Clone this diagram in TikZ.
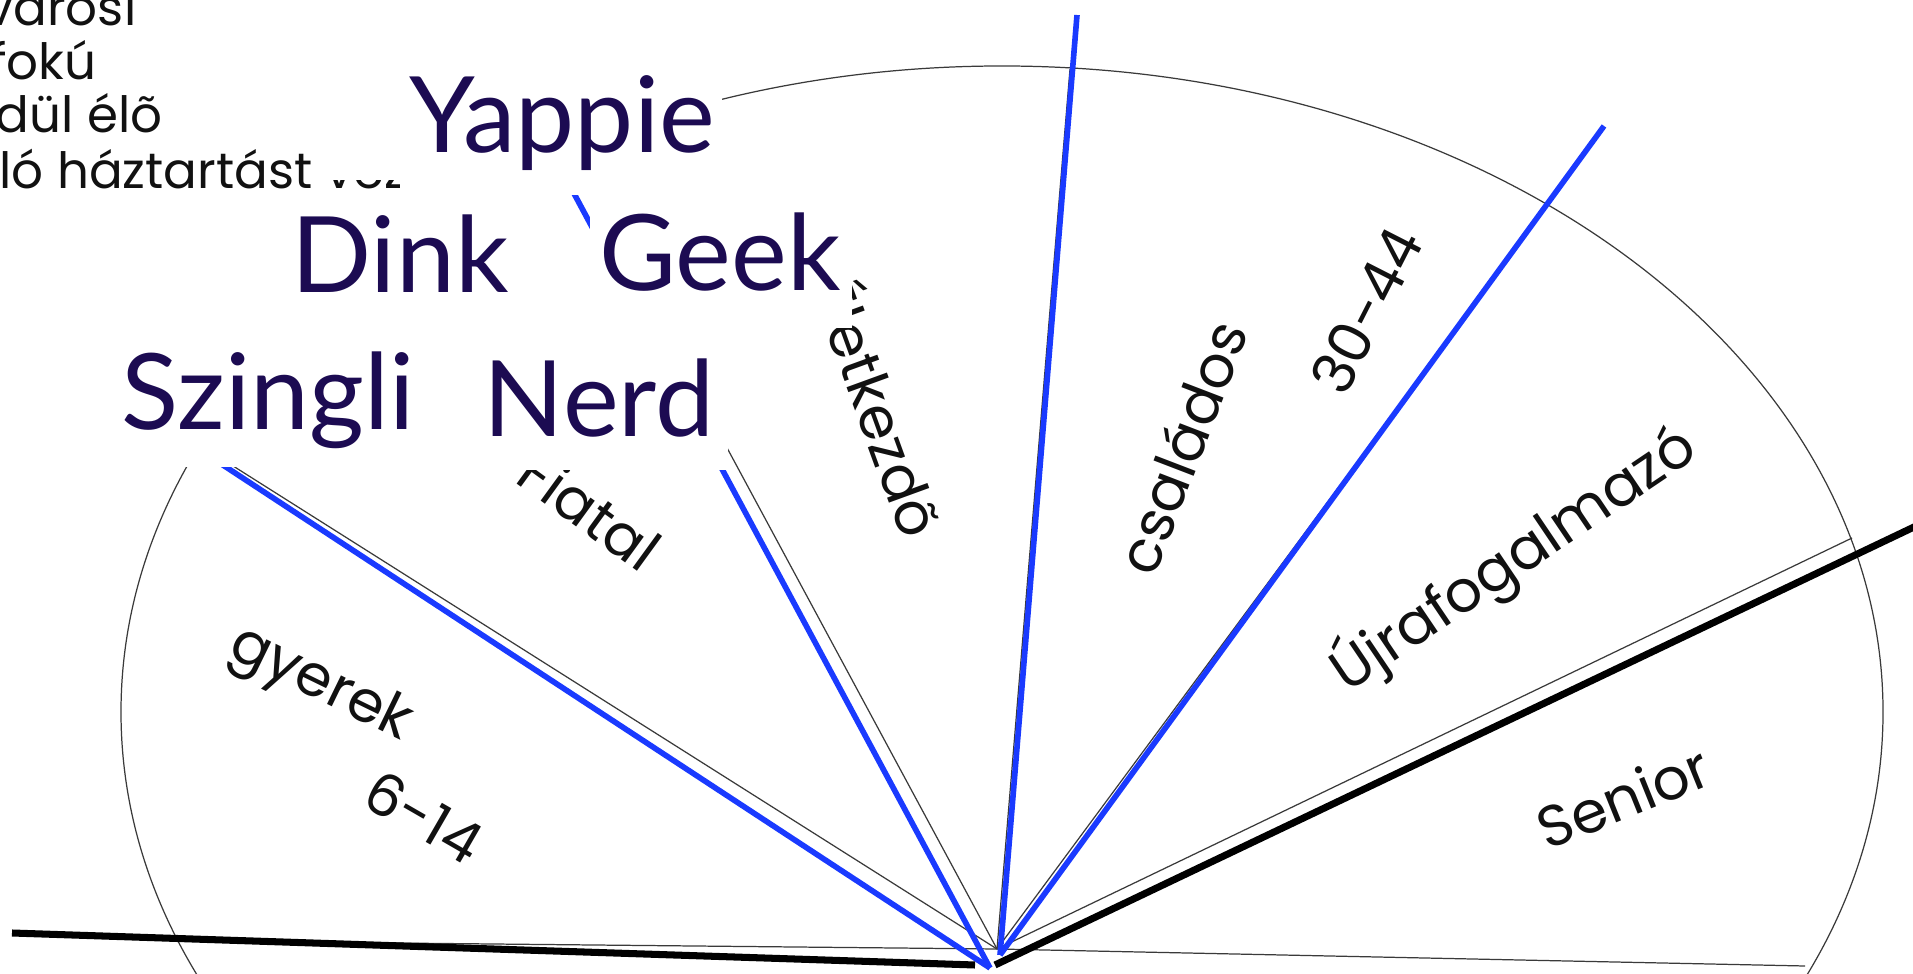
\documentclass[tikz,border=0pt]{standalone}
\usepackage{fontspec}
\setmainfont{Poppins}
\newfontfamily\wordfont{Lato}
\usetikzlibrary{calc}
\definecolor{ink}{HTML}{111111}
\definecolor{fanLine}{HTML}{3A3A3A}
\definecolor{rayLine}{HTML}{1A3AFF}
\definecolor{wordInk}{HTML}{1C0B52}
\tikzset{
  % --- fan (rim and dividers) ---------------------------------------------
  fanrim/.style   = {draw=fanLine, line width=0.35pt},
  fanray/.style   = {draw=fanLine, line width=0.35pt},
  blueray/.style  = {draw=rayLine, line width=1.6pt},
  blackray/.style = {draw=black, line width=2pt},
  % --- labels -------------------------------------------------------------
  seglbl/.style   = {font=\fontsize{16.5}{18}\selectfont, text=ink, inner sep=0pt},
  listlbl/.style  = {font=\fontsize{14.2}{16}\selectfont, text=ink, inner sep=0pt,
                     anchor=base east},
  % --- pasted word cards --------------------------------------------------
  cover/.style    = {fill=white, draw=none},
  bigword/.style  = {font=\wordfont\fontsize{30}{32}\selectfont, text=wordInk,
                     inner sep=0pt, anchor=base},
}

\begin{document}
\begin{tikzpicture}[x=0.01cm, y=-0.01cm]
\useasboundingbox (0,0) rectangle (1913,974);
\clip (0,0) rectangle (1913,974);

% ==================== fan =================================================
\coordinate (fc) at (997,949);
\draw[fanrim] (1002,712) ellipse [x radius=881, y radius=646];

% dividers, centre to rim
\foreach \n/\x/\y in {r1/192/440, r2/566/149, r3/1070/69, r4/1546/207, r5/1852/538}{
  \coordinate (\n) at (\x,\y);
  \draw[fanray] (fc) -- (\n);}
\coordinate (bl) at (190,941);
\coordinate (br) at (1805,966);
\draw[fanray] (bl) -- (fc) -- (br);

% blue rays
\coordinate (ba) at (990,968);
\coordinate (bb) at (1000,955);
\foreach \n/\x/\y in {b1/200/450, b2/556/160}{
  \coordinate (\n) at (\x,\y);
  \draw[blueray] (ba) -- (\n);}
\foreach \n/\x/\y in {b3/1077/15, b4/1604/126}{
  \coordinate (\n) at (\x,\y);
  \draw[blueray] (bb) -- (\n);}

% black rays
\coordinate (k1s) at (12,933);
\coordinate (k1e) at (975,965);
\coordinate (k2s) at (995,965);
\coordinate (k2e) at (1935,517);
\draw[blackray] (k1s) -- (k1e);
\draw[blackray] (k2s) -- (k2e);

% segment labels
\foreach \n/\x/\y/\r/\t in {gyerek/320/686/-26/gyerek, kor1/424/817/-30/6-14,
    fiatal/590/510/-36/Fiatal, eletk/882/406/-70/Életkezdõ,
    csalad/1181/447/69/családos, kor2/1366/311/63/30-44,
    ujra/1513/559/34/Újrafogalmazó, senior/1623/797/22/Senior}{
  \node[seglbl, rotate=\r] (\n) at (\x,\y) {\t};}

% ==================== list, top left =======================================
\node[listlbl] (city)   at (137,26)  {nagyvárosi};
\node[listlbl] (degree) at (97,80)   {felsõfokú};
\node[listlbl] (alone)  at (163,133) {egyedül élõ};
\node[listlbl] (house)  at (313,189) {önálló háztartást\rlap{ vezetõ}};

% ==================== word cards ==========================================
\fill[cover] (325,0) rectangle (722,180);
\fill[cover] (400,180) rectangle (722,195);
\fill[cover] (260,195) rectangle (556,335);
\fill[cover] (590,190) rectangle (852,328);
\fill[cover] (120,335) rectangle (470,467);
\fill[cover] (470,328) rectangle (728,470);

\node[bigword] (yappie)  at (562,153) {Yappie};
\node[bigword] (dink)    at (400,293) {Dink};
\node[bigword] (geek)    at (720,291) {Geek};
\node[bigword] (szingli) at (268,430) {Szingli};
\node[bigword] (nerd)    at (599,437) {Nerd};

\end{tikzpicture}
\end{document}
